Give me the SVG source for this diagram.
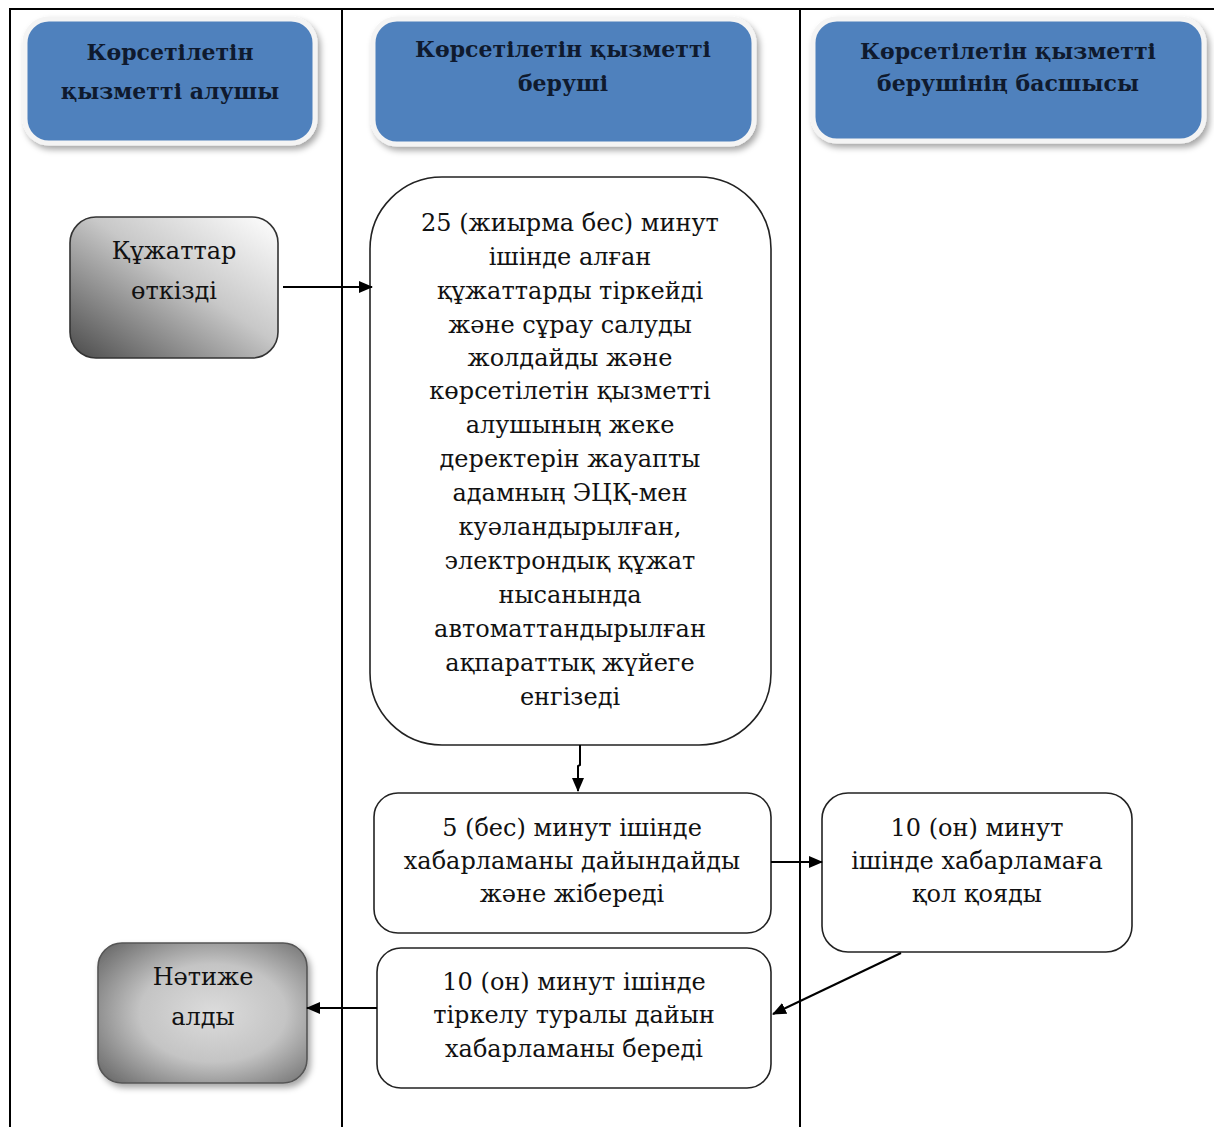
<svg xmlns="http://www.w3.org/2000/svg" width="1214" height="1127" viewBox="0 0 1214 1127">
<defs>
<style>
.lane{stroke:#000;stroke-width:2;fill:none}
.hdr{fill:#4f81bd;stroke:#f4f4f4;stroke-width:5}
.hdrt{font-family:"DejaVu Serif","Liberation Serif",serif;font-weight:bold;font-size:22px;fill:#0f1a2e;text-anchor:middle}
.box{fill:#fff;stroke:#222;stroke-width:1.6}
.t{font-family:"DejaVu Serif","Liberation Serif",serif;font-size:24px;fill:#111;text-anchor:middle}
.con{stroke:#000;stroke-width:2;fill:none}
</style>
<linearGradient id="g1" x1="1" y1="0" x2="0" y2="1">
<stop offset="0" stop-color="#ffffff"/>
<stop offset="0.45" stop-color="#c8c8c8"/>
<stop offset="1" stop-color="#4a4a4a"/>
</linearGradient>
<radialGradient id="g2" cx="0.55" cy="0.5" r="0.7">
<stop offset="0" stop-color="#dcdcdc"/>
<stop offset="0.5" stop-color="#c4c4c4"/>
<stop offset="1" stop-color="#6a6a6a"/>
</radialGradient>
<filter id="sh" x="-10%" y="-10%" width="125%" height="130%">
<feDropShadow dx="3" dy="4" stdDeviation="3" flood-color="#000" flood-opacity="0.35"/>
</filter>
<marker id="ah" markerWidth="14" markerHeight="12" refX="13" refY="6" orient="auto" markerUnits="userSpaceOnUse" viewBox="0 0 14 12">
<path d="M0,0 L14,6 L0,12 z" fill="#000"/>
</marker>
</defs>
<rect width="1214" height="1127" fill="#fff"/>
<g id="lanes">
<line class="lane" x1="9" y1="9" x2="1214" y2="9"/>
<line class="lane" x1="10" y1="8" x2="10" y2="1127"/>
<line class="lane" x1="342" y1="8" x2="342" y2="1127"/>
<line class="lane" x1="800" y1="8" x2="800" y2="1127"/>
</g>
<g id="header1">
<rect class="hdr" x="25" y="19" width="290" height="124" rx="24" filter="url(#sh)"/>
<text class="hdrt" x="170" y="60">Көрсетілетін</text>
<text class="hdrt" x="170" y="99">қызметті  алушы</text>
</g>
<g id="header2">
<rect class="hdr" x="373" y="19" width="381" height="125" rx="24" filter="url(#sh)"/>
<text class="hdrt" x="563" y="57">Көрсетілетін қызметті</text>
<text class="hdrt" x="563" y="91">беруші</text>
</g>
<g id="header3">
<rect class="hdr" x="813" y="19" width="391" height="122" rx="24" filter="url(#sh)"/>
<text class="hdrt" x="1008" y="59">Көрсетілетін қызметті</text>
<text class="hdrt" x="1008" y="91">берушінің басшысы</text>
</g>
<g id="n_submit">
<rect x="70" y="217" width="208" height="141" rx="26" fill="url(#g1)" stroke="#333" stroke-width="1.6"/>
<text class="t" x="174" y="259">Құжаттар</text>
<text class="t" x="174" y="299">өткізді</text>
</g>
<g id="n_register">
<rect class="box" x="370" y="177" width="401" height="568" rx="72"/>
<text class="t" x="570" y="231">25 (жиырма бес) минут</text>
<text class="t" x="570" y="265">ішінде алған</text>
<text class="t" x="570" y="299">құжаттарды тіркейді</text>
<text class="t" x="570" y="333">және сұрау салуды</text>
<text class="t" x="570" y="366">жолдайды және</text>
<text class="t" x="570" y="399">көрсетілетін қызметті</text>
<text class="t" x="570" y="433">алушының жеке</text>
<text class="t" x="570" y="467">деректерін жауапты</text>
<text class="t" x="570" y="501">адамның ЭЦҚ-мен</text>
<text class="t" x="570" y="535">куәландырылған,</text>
<text class="t" x="570" y="569">электрондық құжат</text>
<text class="t" x="570" y="603">нысанында</text>
<text class="t" x="570" y="637">автоматтандырылған</text>
<text class="t" x="570" y="671">ақпараттық жүйеге</text>
<text class="t" x="570" y="705">енгізеді</text>
</g>
<g id="n_prepare">
<rect class="box" x="374" y="793" width="397" height="140" rx="24"/>
<text class="t" x="572" y="836">5 (бес) минут ішінде</text>
<text class="t" x="572" y="869">хабарламаны дайындайды</text>
<text class="t" x="572" y="902">және жібереді</text>
</g>
<g id="n_sign">
<rect class="box" x="822" y="793" width="310" height="159" rx="26"/>
<text class="t" x="977" y="836">10 (он) минут</text>
<text class="t" x="977" y="869">ішінде хабарламаға</text>
<text class="t" x="977" y="902">қол қояды</text>
</g>
<g id="n_issue">
<rect class="box" x="377" y="948" width="394" height="140" rx="24"/>
<text class="t" x="574" y="990">10 (он) минут ішінде</text>
<text class="t" x="574" y="1023">тіркелу туралы дайын</text>
<text class="t" x="574" y="1057">хабарламаны береді</text>
</g>
<g id="n_result">
<rect x="98" y="943" width="209" height="140" rx="24" fill="url(#g2)" stroke="#555" stroke-width="1.6" filter="url(#sh)"/>
<text class="t" x="203" y="985">Нәтиже</text>
<text class="t" x="203" y="1025">алды</text>
</g>
<g id="connectors">
<line class="con" x1="283" y1="287" x2="372" y2="287" marker-end="url(#ah)"/>
<path class="con" d="M580,745 L580,765 L578,766 L578,791" marker-end="url(#ah)"/>
<line class="con" x1="771" y1="862" x2="822" y2="862" marker-end="url(#ah)"/>
<line class="con" x1="901" y1="953" x2="773" y2="1014" marker-end="url(#ah)"/>
<line class="con" x1="377" y1="1008" x2="307" y2="1008" marker-end="url(#ah)"/>
</g>
</svg>
